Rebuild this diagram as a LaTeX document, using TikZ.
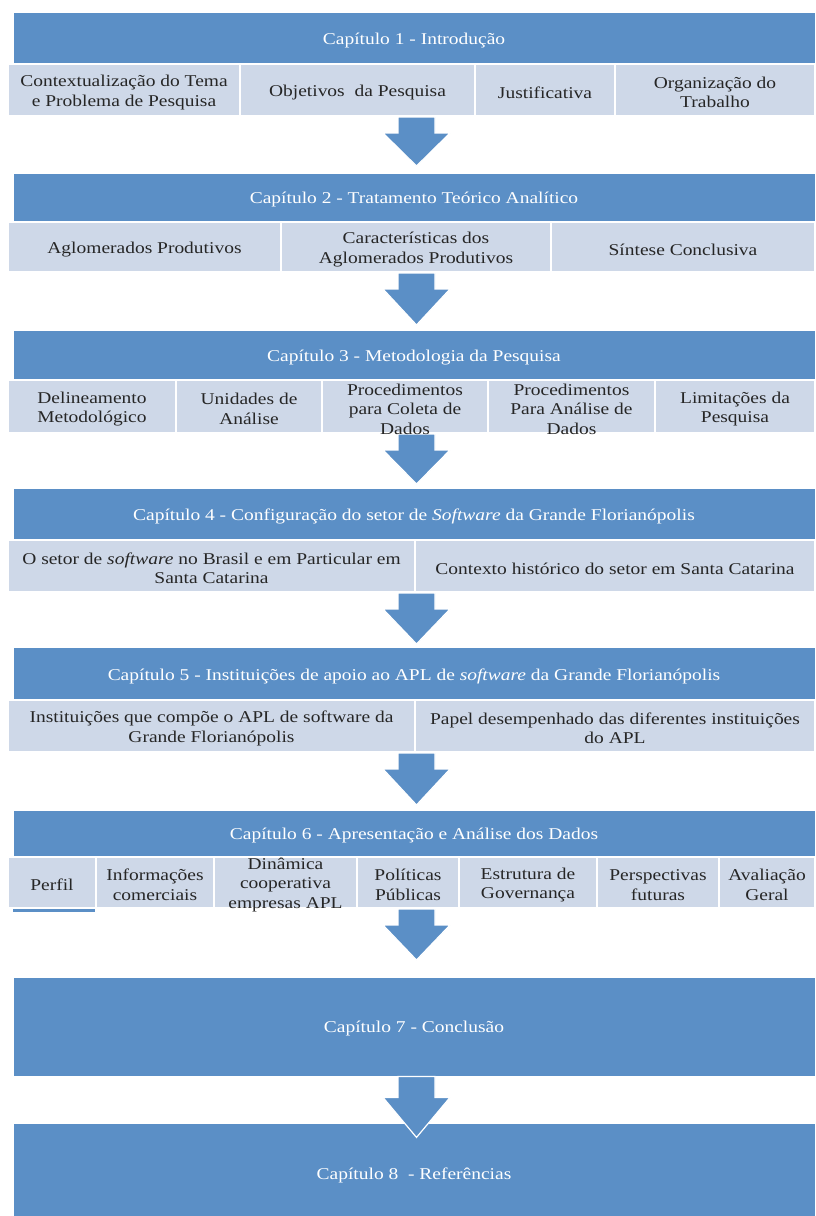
\documentclass[tikz,border=0pt]{standalone}
\usepackage{fontspec}
\setmainfont{Liberation Serif}[FakeStretch=1.18]
\usetikzlibrary{calc}
\definecolor{chapblue}{HTML}{5B8FC6}
\definecolor{itemfill}{HTML}{CED8E8}
\definecolor{itemtext}{HTML}{262626}
\pgfdeclarelayer{foreground}
\pgfsetlayers{main,foreground}
\tikzset{
  chapbox/.style={fill=chapblue, draw=white, line width=0.8pt, inner sep=0pt},
  chapbox label/.style={text=white, align=center, inner sep=0pt,
    font=\fontsize{16.5}{19.5}\selectfont},
  itembox/.style={fill=itemfill, draw=white, line width=2pt, inner sep=0pt},
  itembox label/.style={text=itemtext, align=center, inner sep=0pt,
    font=\fontsize{16.5}{19.5}\selectfont},
  flowarrow/.style={fill=chapblue, draw=white, line width=1.2pt, line join=miter}
}
% rectangle node from its corners (x1,y1)-(x2,y2), y measured downwards,
% with its text set slightly below the centre, on top of everything else
\newcommand\rectnode[7]{%
  \node[#1, minimum width={(#5-#3)*1pt}, minimum height={(#6-#4)*1pt}]
    (#2) at ({(#3+#5)/2},{-(#4+#6)/2}) {};
  \begin{pgfonlayer}{foreground}
    \node[#1 label] (#2-text) at ([yshift=-2.5pt]#2.center) {#7};
  \end{pgfonlayer}}
% block arrow hanging from the bottom of a node
\newcommand\downblock[3]{%
  \draw[flowarrow] ($(ax |- #1.south)+(-18.5,0)$) -- ++(0,-#2) -- ++(-15,0)
    -- ($(ax |- #1.south)+(0,-#3)$) -- ($(ax |- #1.south)+(33.5,-#2)$)
    -- ++(-15,0) -- ++(0,#2) -- cycle;}
\begin{document}
\begin{tikzpicture}[x=1pt,y=1pt]
\useasboundingbox (0,0) rectangle (815,-1216);
\coordinate (ax) at (416.5,0);

% Chapter 1
\rectnode{chapbox}{c1}{13}{12}{815}{64}{Capítulo 1 - Introdução}
\rectnode{itembox}{c1a}{8}{64}{240}{116}{Contextualização do Tema\\e Problema de Pesquisa}
\rectnode{itembox}{c1b}{240}{64}{475}{116}{Objetivos\ \ da Pesquisa}
\rectnode{itembox}{c1c}{475}{64}{615}{116}{Justificativa}
\rectnode{itembox}{c1d}{615}{64}{815}{116}{Organização do\\Trabalho}

% Chapter 2
\rectnode{chapbox}{c2}{13}{173}{815}{222}{Capítulo 2 - Tratamento Teórico Analítico}
\rectnode{itembox}{c2a}{8}{222}{281}{272}{Aglomerados Produtivos}
\rectnode{itembox}{c2b}{281}{222}{551}{272}{Características dos\\Aglomerados Produtivos}
\rectnode{itembox}{c2c}{551}{222}{815}{272}{Síntese Conclusiva}

% Chapter 3
\rectnode{chapbox}{c3}{13}{330}{815}{380}{Capítulo 3 - Metodologia da Pesquisa}
\rectnode{itembox}{c3a}{8}{380}{176}{433}{Delineamento\\Metodológico}
\rectnode{itembox}{c3b}{176}{380}{322}{433}{Unidades de\\Análise}
\rectnode{itembox}{c3c}{322}{380}{488}{433}{Procedimentos\\para Coleta de\\Dados}
\rectnode{itembox}{c3d}{488}{380}{655}{433}{Procedimentos\\Para Análise de\\Dados}
\rectnode{itembox}{c3e}{655}{380}{815}{433}{Limitações da\\Pesquisa}

% Chapter 4
\rectnode{chapbox}{c4}{13}{488}{815}{540}{Capítulo 4 - Configuração do setor de \textit{Software} da Grande Florianópolis}
\rectnode{itembox}{c4a}{8}{540}{415}{592}{O setor de \textit{software} no Brasil e em Particular em\\Santa Catarina}
\rectnode{itembox}{c4b}{415}{540}{815}{592}{Contexto histórico do setor em Santa Catarina}

% Chapter 5
\rectnode{chapbox}{c5}{13}{647}{815}{700}{Capítulo 5 - Instituições de apoio ao APL de \textit{software} da Grande Florianópolis}
\rectnode{itembox}{c5a}{8}{700}{415}{752}{Instituições que compõe o APL de software da\\Grande Florianópolis}
\rectnode{itembox}{c5b}{415}{700}{815}{752}{Papel desempenhado das diferentes instituições\\do APL}

% Chapter 6
\rectnode{chapbox}{c6}{13}{810}{815}{857}{Capítulo 6 - Apresentação e Análise dos Dados}
\fill[chapblue] (13,-906) rectangle (95,-911.5);
\rectnode{itembox}{c6a}{8}{857}{96}{908}{Perfil}
\rectnode{itembox}{c6b}{96}{857}{214}{908}{Informações\\comerciais}
\rectnode{itembox}{c6c}{214}{857}{357}{908}{Dinâmica\\cooperativa\\empresas APL}
\rectnode{itembox}{c6d}{357}{857}{459}{908}{Políticas\\Públicas}
\rectnode{itembox}{c6e}{459}{857}{597}{908}{Estrutura de\\Governança}
\rectnode{itembox}{c6f}{597}{857}{719}{908}{Perspectivas\\futuras}
\rectnode{itembox}{c6g}{719}{857}{815}{908}{Avaliação\\Geral}

% Chapters 7 and 8 (the last block runs off the bottom edge)
\rectnode{chapbox}{c7}{13}{977}{815}{1076}{Capítulo 7 - Conclusão}
\rectnode{chapbox}{c8}{13}{1123}{815}{1223}{Capítulo 8\ \ - Referências}

% Arrows between chapters
\downblock{c1b}{16}{49}
\downblock{c2b}{16}{52}
\downblock{c3c}{16}{50}
\downblock{c4a}{16}{51}
\downblock{c5a}{16}{52}
\downblock{c6d}{16}{51}
\downblock{c7}{21}{61}
\end{tikzpicture}
\end{document}
